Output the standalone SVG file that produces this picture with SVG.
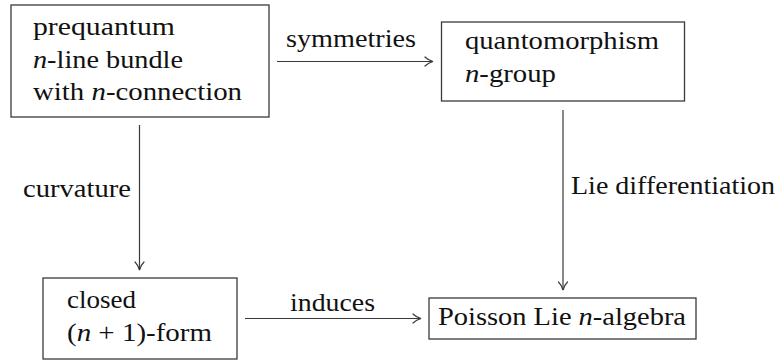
<svg xmlns="http://www.w3.org/2000/svg" width="781" height="360" viewBox="0 0 781 360">
  <style>
    .box { fill: #ffffff; stroke: #3a3a3a; stroke-width: 1.3; }
    .edge { fill: none; stroke: #3a3a3a; stroke-width: 1.2; marker-end: url(#to); }
    text { font-family: "Liberation Serif", "DejaVu Serif", "Times New Roman", serif; font-size: 25px; fill: #111111; }
    .m { font-style: italic; }
  </style>
  <defs>
    <marker id="to" viewBox="-9 -6 10 12" markerWidth="10" markerHeight="12" refX="0" refY="0" orient="auto" markerUnits="userSpaceOnUse" overflow="visible">
      <path d="M -8,-4.5 C -5,-1.6 -2,-0.5 0,0 C -2,0.5 -5,1.6 -8,4.5" fill="none" stroke="#3a3a3a" stroke-width="1.2" stroke-linecap="round"/>
    </marker>
  </defs>

  <g id="connectors">
    <g id="edge-symmetries">
      <line class="edge" x1="277" y1="61.5" x2="433" y2="61.5"/>
      <text x="286" y="47" textLength="130" lengthAdjust="spacingAndGlyphs">symmetries</text>
    </g>
    <g id="edge-curvature">
      <line class="edge" x1="139.5" y1="125" x2="139.5" y2="270"/>
      <text x="23" y="197" textLength="108" lengthAdjust="spacingAndGlyphs">curvature</text>
    </g>
    <g id="edge-lie">
      <line class="edge" x1="563" y1="110" x2="563" y2="290"/>
      <text x="571" y="194" textLength="204" lengthAdjust="spacingAndGlyphs">Lie differentiation</text>
    </g>
    <g id="edge-induces">
      <line class="edge" x1="245" y1="318.5" x2="421" y2="318.5"/>
      <text x="290" y="311" textLength="85" lengthAdjust="spacingAndGlyphs">induces</text>
    </g>
  </g>

  <g id="node-prequantum">
    <rect class="box" x="11" y="5" width="258" height="112"/>
    <text x="33" y="35" textLength="142" lengthAdjust="spacingAndGlyphs">prequantum</text>
    <text x="33" y="68" textLength="150" lengthAdjust="spacingAndGlyphs"><tspan class="m">n</tspan>-line bundle</text>
    <text x="33" y="100" textLength="209" lengthAdjust="spacingAndGlyphs">with <tspan class="m">n</tspan>-connection</text>
  </g>

  <g id="node-quantomorphism">
    <rect class="box" x="441.5" y="22" width="243" height="79"/>
    <text x="465" y="48.5" textLength="194" lengthAdjust="spacingAndGlyphs">quantomorphism</text>
    <text x="465" y="81.5" textLength="91" lengthAdjust="spacingAndGlyphs"><tspan class="m">n</tspan>-group</text>
  </g>

  <g id="node-closed-form">
    <rect class="box" x="43" y="278" width="194" height="81"/>
    <text x="67" y="308" textLength="69" lengthAdjust="spacingAndGlyphs">closed</text>
    <text x="67" y="341" textLength="145" lengthAdjust="spacingAndGlyphs">(<tspan class="m">n</tspan> + 1)-form</text>
  </g>

  <g id="node-poisson">
    <rect class="box" x="429" y="298" width="267" height="41"/>
    <text x="438" y="325" textLength="248" lengthAdjust="spacingAndGlyphs">Poisson Lie <tspan class="m">n</tspan>-algebra</text>
  </g>
</svg>
